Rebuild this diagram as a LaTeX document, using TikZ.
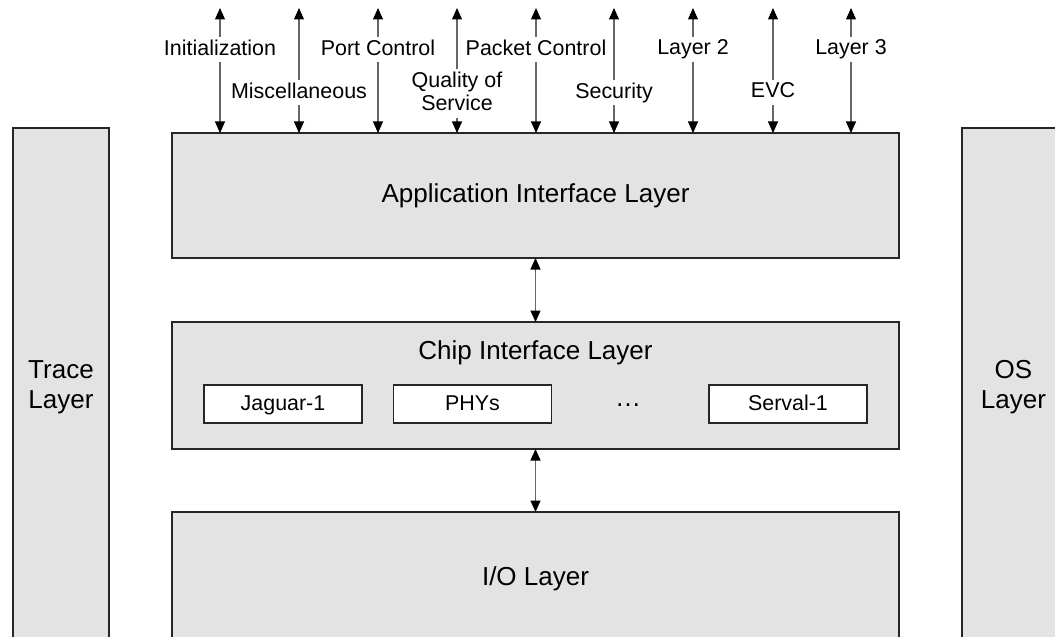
\documentclass[tikz,border=0pt]{standalone}
\usepackage{fontspec}
\setmainfont{Liberation Sans}
\usetikzlibrary{arrows.meta}
\tikzset{
  layer/.style={draw=black!85,line width=0.6pt,fill=black!11,outer sep=0pt,
    font=\fontsize{14.8}{17}\selectfont},
  sidelayer/.style={layer,align=center},
  chipbox/.style={draw=black!85,line width=0.6pt,fill=white,outer sep=0pt,
    minimum width=3.16cm,minimum height=0.76cm,text height=0.85em,text depth=0.15em,
    font=\fontsize{12.2}{14.5}\selectfont},
  apilabel/.style={fill=white,inner sep=1.5pt,align=center,text depth=0.25em,
    font=\fontsize{12.2}{13}\selectfont},
  link/.style={draw=black!60,line width=0.6pt,
    {Triangle[width=0.2cm,length=0.23cm,color=black]}-{Triangle[width=0.2cm,length=0.23cm,color=black]}}
}
\begin{document}
\begin{tikzpicture}
  \useasboundingbox (0,0) rectangle (21.1,12.72);
  % side layers
  \node[sidelayer,minimum width=1.92cm,minimum height=10.36cm] (trace) at (1.22,4.98) {Trace\\Layer};
  \node[sidelayer,minimum width=2.06cm,minimum height=10.36cm] (os) at (20.27,4.98) {OS\\Layer};
  % main stack
  \node[layer,minimum width=14.54cm,minimum height=2.5cm] (app) at (10.71,8.81) {Application Interface Layer};
  \node[layer,minimum width=14.54cm,minimum height=2.54cm] (chip) at (10.71,5.01) {};
  \node[font=\fontsize{14.8}{17}\selectfont] (chiptitle) at (10.71,5.66) {Chip Interface Layer};
  \node[layer,minimum width=14.54cm,minimum height=2.68cm] (io) at (10.71,1.14) {I/O Layer};
  % chips
  \node[chipbox] (jaguar) at (5.66,4.64) {Jaguar-1};
  \node[chipbox] (phys) at (9.45,4.64) {PHYs};
  \node[font=\fontsize{14.8}{17}\selectfont] (dots) at (12.56,4.62) {\textellipsis};
  \node[chipbox] (serval) at (15.76,4.64) {Serval-1};
  \draw[link] (app.south) -- (chip.north);
  \draw[link] (chip.south) -- (io.north);
  % API groups
  \foreach \x/\y/\txt [count=\i] in {4.40/11.73/Initialization,5.98/10.87/Miscellaneous,
      7.56/11.73/Port Control,9.14/10.85/{Quality of\\Service},10.72/11.73/Packet Control,
      12.28/10.87/Security,13.86/11.73/Layer 2,15.46/10.87/EVC,17.02/11.73/Layer 3}{
    \coordinate (top\i) at (\x,12.56);
    \draw[link] (top\i) -- (top\i |- app.north);
    \node[apilabel] (api\i) at (\x,\y) {\txt};
  }
\end{tikzpicture}
\end{document}
